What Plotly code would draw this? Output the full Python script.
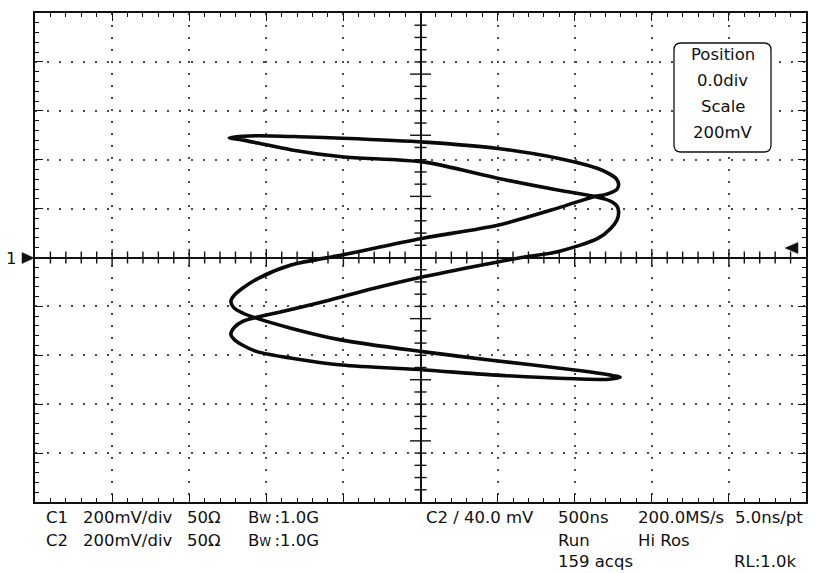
import plotly.graph_objects as go

# ---------------- data (in screen divisions) ----------------
curve_x = [-2.48, -2.30, -2.11, -1.57, -1.02, 0.05, 1.00, 1.78, 2.30, 2.45, 2.54, 2.57, 2.55, 2.48, 2.38, 2.26,
           1.78, 1.00, 0.05, -0.60, -1.02, -1.67, -2.11, -2.30, -2.42, -2.46, -2.42, -2.30, -2.15,
           -1.67, -1.02, 0.05, 0.92, 2.00, 2.45, 2.59, 2.45, 2.00, 0.92, 0.05, -1.02,
           -1.67, -2.11, -2.30, -2.42, -2.46, -2.41, -2.30, -2.15, -1.89, -1.25, -0.60, 0.05, 1.00,
           1.35, 1.78, 2.30, 2.47, 2.55, 2.57, 2.55, 2.48, 2.38, 2.26, 1.78, 1.00, 0.05,
           -1.02, -1.67, -2.11, -2.30, -2.48]
curve_y = [2.45, 2.48, 2.49, 2.47, 2.44, 2.36, 2.23, 2.03, 1.82, 1.71, 1.61, 1.50, 1.40, 1.33, 1.28, 1.25,
           1.01, 0.66, 0.40, 0.19, 0.05, -0.15, -0.43, -0.62, -0.78, -0.90, -1.03, -1.14, -1.23,
           -1.45, -1.69, -1.93, -2.10, -2.30, -2.40, -2.45, -2.49, -2.48, -2.40, -2.30, -2.20,
           -2.06, -1.93, -1.80, -1.67, -1.57, -1.42, -1.30, -1.23, -1.14, -0.90, -0.63, -0.39, -0.09,
           0.01, 0.12, 0.39, 0.60, 0.77, 0.93, 1.05, 1.14, 1.20, 1.25, 1.38, 1.62, 1.95,
           2.06, 2.20, 2.34, 2.40, 2.45]

box_lines = ["Position", "0.0div", "Scale", "200mV"]
row1 = ["C1", "200mV/div", "50Ω", "B<span style='font-size:12px'>W</span>\u2009:1.0G",
        "C2 / 40.0 mV", "500ns", "200.0MS/s", "5.0ns/pt"]
row2 = ["C2", "200mV/div", "50Ω", "B<span style='font-size:12px'>W</span>\u2009:1.0G",
        "Run", "Hi Ros"]
row3 = ["159 acqs", "RL:1.0k"]

# ---------------- layout geometry ----------------
W, H = 817, 573
ML, MR, MT, MB = 35, 11, 13, 71
PW, PH = W - ML - MR, H - MT - MB


def pxx(x):
    return (x - ML) / PW


def pxy(y):
    return (H - MB - y) / PH


FONT = "DejaVu Sans"
FS = 16.5
TXT = "#111111"
INK = "#111111"

# tick positions of the centre graticule axes (decoration)
hx_minor = [round(i * 0.2, 2) for i in range(-24, 25) if i % 5 != 0]
hx_major = [i for i in range(-4, 5) if i != 0]
vy_minor = [round(i * 0.25, 2) for i in range(-19, 20) if i % 5 != 0]
vy_major = [round(i * 1.25, 2) for i in range(-3, 4) if i != 0]

fig = go.Figure()


def tick_trace(xs, ys, symbol, size):
    return go.Scatter(x=xs, y=ys, mode="markers", cliponaxis=False, hoverinfo="skip",
                      showlegend=False,
                      marker=dict(symbol=symbol, size=size, color=INK,
                                  line=dict(color=INK, width=1.4)))


fig.add_trace(tick_trace(hx_minor, [0] * len(hx_minor), "line-ns", 8.6))
fig.add_trace(tick_trace(hx_major, [0] * len(hx_major), "line-ns", 12))
fig.add_trace(tick_trace([0] * len(vy_minor), vy_minor, "line-ew", 8.6))
fig.add_trace(tick_trace([0] * len(vy_major), vy_major, "line-ew", 15))

fig.add_trace(go.Scatter(x=curve_x, y=curve_y, mode="lines",
                         line=dict(color="#0a0a0a", width=3.6, shape="spline", smoothing=0.8),
                         hoverinfo="skip", showlegend=False))

grid_dash = "1.6px,10.4px"
main_axis = dict(range=[-5, 5], showticklabels=False, fixedrange=True, automargin=False,
                 tick0=0, dtick=1, showgrid=True, gridcolor="#4a4a4a", gridwidth=1.6,
                 griddash=grid_dash, zeroline=True, zerolinecolor=INK, zerolinewidth=2,
                 showline=True, linecolor=INK, linewidth=1.8, mirror="allticks",
                 ticks="inside", ticklen=8, tickwidth=1.4, tickcolor=INK,
                 minor=dict(tick0=0, dtick=0.2, ticks="inside", ticklen=4, tickwidth=1.3,
                            tickcolor=INK, showgrid=False))

fig.update_layout(
    width=W, height=H,
    margin=dict(l=ML, r=MR, t=MT, b=MB, pad=0, autoexpand=False),
    paper_bgcolor="white", plot_bgcolor="white",
    showlegend=False,
    xaxis=main_axis,
    yaxis=main_axis,
)

# ---------------- info box (rounded rectangle) ----------------
bx0, bx1, by0, by1, rad = 674, 771, 43, 152, 7
x0, x1 = pxx(bx0), pxx(bx1)
yt, yb = pxy(by0), pxy(by1)
rx, ry = rad / PW, rad / PH
path = (f"M {x0+rx},{yt} L {x1-rx},{yt} Q {x1},{yt} {x1},{yt-ry} "
        f"L {x1},{yb+ry} Q {x1},{yb} {x1-rx},{yb} L {x0+rx},{yb} Q {x0},{yb} {x0},{yb+ry} "
        f"L {x0},{yt-ry} Q {x0},{yt} {x0+rx},{yt} Z")
fig.add_shape(type="path", path=path, xref="paper", yref="paper",
              line=dict(color=INK, width=1.3), fillcolor="white", layer="above")

# channel reference markers (triangles)
tri_left = f"M {pxx(22)},{pxy(252.5)} L {pxx(22)},{pxy(263.5)} L {pxx(34)},{pxy(258)} Z"
tri_right = f"M {pxx(785)},{pxy(248)} L {pxx(798)},{pxy(242.5)} L {pxx(798)},{pxy(253.5)} Z"
for p in (tri_left, tri_right):
    fig.add_shape(type="path", path=p, xref="paper", yref="paper",
                  line=dict(color=INK, width=0.5), fillcolor=INK, layer="above")

anns = []
for txt, yy in zip(box_lines, [54, 80.5, 106.5, 132.5]):
    anns.append(dict(text=txt, x=pxx(722.5), y=pxy(yy), xanchor="center", yanchor="middle"))

row1_x = [44, 81, 185, 246, 424, 556, 636, 733]
row2_x = [44, 81, 185, 246, 556, 636]
row3_x = [556, 732]
for txt, xx in zip(row1, row1_x):
    anns.append(dict(text=txt, x=pxx(xx), y=pxy(517.5), xanchor="left", yanchor="middle"))
for txt, xx in zip(row2, row2_x):
    anns.append(dict(text=txt, x=pxx(xx), y=pxy(540.5), xanchor="left", yanchor="middle"))
for txt, xx in zip(row3, row3_x):
    anns.append(dict(text=txt, x=pxx(xx), y=pxy(561.5), xanchor="left", yanchor="middle"))
anns.append(dict(text="1", x=pxx(11), y=pxy(258), xanchor="center", yanchor="middle"))

for a in anns:
    a.update(xref="paper", yref="paper", showarrow=False,
             font=dict(family=FONT, size=FS, color=TXT))
    fig.add_annotation(**a)

fig.write_html("out.html", config={"displayModeBar": False},
               post_script="document.body.style.margin='0px';document.body.style.overflow='hidden';")
